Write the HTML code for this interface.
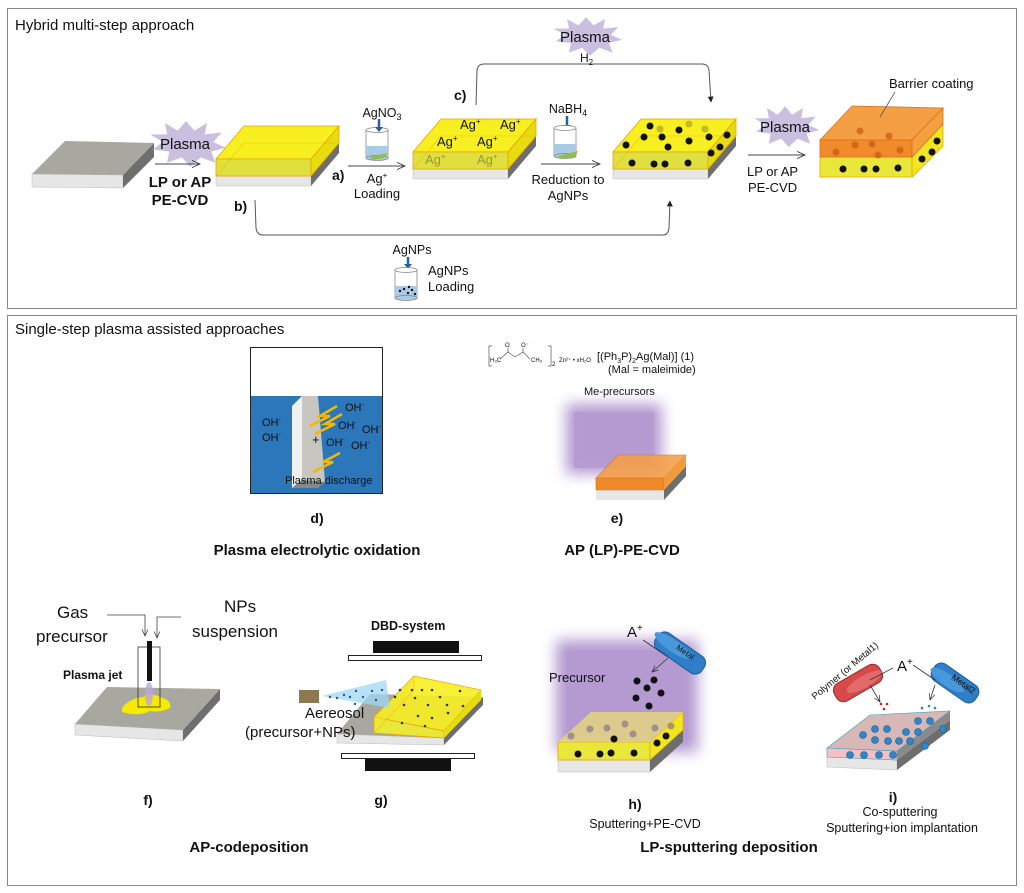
<!DOCTYPE html>
<html><head><meta charset="utf-8"><style>
body{margin:0;background:#fff}
svg{display:block}
text{font-family:"Liberation Sans",Arial,sans-serif;fill:#111}
</style></head><body>
<svg width="1024" height="893" viewBox="0 0 1024 893" xmlns="http://www.w3.org/2000/svg">
<defs>
<marker id="ar" viewBox="0 0 10 10" refX="9" refY="5" markerWidth="9" markerHeight="9" orient="auto"><path d="M0,1 L9,5 L0,9" fill="none" stroke="#333" stroke-width="1"/></marker>
<marker id="af" viewBox="0 0 10 10" refX="9" refY="5" markerWidth="6" markerHeight="6" orient="auto"><path d="M0,0 L10,5 L0,10z" fill="#222"/></marker>
<filter id="blur" x="-30%" y="-30%" width="160%" height="160%"><feGaussianBlur stdDeviation="7"/></filter>
<g id="slab">
 <polygon points="0,17 95,17 95,27 0,27" fill="#e6e6e6" stroke="#bbb" stroke-width="0.5"/>
 <polygon points="95,17 123,-16 123,-6 95,27" fill="#6e6e6e"/>
 <polygon points="0,0 95,0 123,-33 28,-33" fill="#f7ef20" stroke="#e8a400" stroke-width="0.8"/>
 <polygon points="0,0 95,0 95,17 0,17" fill="#dfe040" stroke="#e8a400" stroke-width="0.8"/>
 <polygon points="95,0 123,-33 123,-16 95,17" fill="#e6dc10" stroke="#e8a400" stroke-width="0.8"/>
 <polyline points="0,17 28,-16 123,-16" fill="none" stroke="#e8a400" stroke-width="0.6" opacity="0.6"/>
</g>
<g id="beaker">
 <rect x="0" y="0" width="22" height="28" fill="#fff" stroke="#888" stroke-width="0.8"/>
 <rect x="0" y="16" width="22" height="12" fill="#a9cbe6"/>
 <ellipse cx="11" cy="0" rx="11" ry="2.5" fill="#fff" stroke="#888" stroke-width="0.8"/>
 <ellipse cx="11" cy="28" rx="11" ry="2.5" fill="#a9cbe6" stroke="#888" stroke-width="0.8"/>
</g>
<polygon id="star" points="0,-22 8,-12 20,-20 18,-8 34,-10 26,0 38,6 24,10 28,22 14,16 4,26 -4,16 -18,22 -16,10 -32,8 -22,0 -34,-8 -18,-8 -20,-20 -8,-12" fill="#cbbfe0"/>
</defs>

<rect x="7.5" y="8.5" width="1009" height="300" fill="none" stroke="#888" stroke-width="1"/>
<text x="15" y="30" font-size="15">Hybrid multi-step approach</text>

<polygon points="32,174 123,175 123,188 32,187" fill="#e6e6e6" stroke="#bbb" stroke-width="0.5"/>
<polygon points="123,175 154,143 154,157 123,188" fill="#6e6e6e"/>
<polygon points="32,174 65,141 154,143 123,175" fill="#a8a8a0"/>

<use href="#star" transform="translate(186,142) scale(1.05,0.95)"/>
<text x="160" y="149" font-size="15" fill="#222">Plasma</text>
<line x1="155" y1="164" x2="200" y2="164" stroke="#444" stroke-width="1" marker-end="url(#ar)"/>
<text x="180" y="187" font-size="15" font-weight="bold" text-anchor="middle">LP or AP</text>
<text x="180" y="205" font-size="15" font-weight="bold" text-anchor="middle">PE-CVD</text>

<use href="#slab" transform="translate(216,159)"/>
<text x="332" y="180" font-size="14" font-weight="bold">a)</text>
<text x="234" y="211" font-size="14" font-weight="bold">b)</text>

<text x="382" y="117" font-size="12.5" text-anchor="middle">AgNO<tspan font-size="9" dy="3">3</tspan></text>
<use href="#beaker" transform="translate(366,130)"/>
<polygon points="370,157 388,153 384,158 372,160" fill="#8fbf4a"/>
<path d="M379,119 v9" stroke="#2a5f9e" stroke-width="2.5"/><path d="M375,127 h8 l-4,5z" fill="#2a5f9e"/>
<line x1="348" y1="166" x2="405" y2="166" stroke="#444" stroke-width="1" marker-end="url(#ar)"/>
<text x="377" y="183" font-size="13" text-anchor="middle">Ag<tspan font-size="8" dy="-5">+</tspan></text>
<text x="377" y="198" font-size="13" text-anchor="middle">Loading</text>

<use href="#slab" transform="translate(413,152)"/>
<g font-size="13"><text x="460" y="129">Ag<tspan font-size="8" dy="-5">+</tspan></text><text x="500" y="129">Ag<tspan font-size="8" dy="-5">+</tspan></text>
<text x="437" y="146">Ag<tspan font-size="8" dy="-5">+</tspan></text><text x="477" y="146">Ag<tspan font-size="8" dy="-5">+</tspan></text></g>
<g font-size="13" opacity="0.35"><text x="425" y="164">Ag<tspan font-size="8" dy="-5">+</tspan></text><text x="477" y="164">Ag<tspan font-size="8" dy="-5">+</tspan></text></g>
<text x="454" y="100" font-size="14" font-weight="bold">c)</text>

<path d="M476,105 L477,70 Q478,64 484,64 L702,64 Q708,64 709,70 L711,102" fill="none" stroke="#555" stroke-width="1" marker-end="url(#af)"/>
<use href="#star" transform="translate(586,35) scale(0.95,0.8)"/>
<text x="560" y="42" font-size="15">Plasma</text>
<text x="580" y="62" font-size="12">H<tspan font-size="8" dy="3">2</tspan></text>

<path d="M255,200 L256,228 Q257,235 263,235 L663,235 Q668,235 669,228 L670,201" fill="none" stroke="#555" stroke-width="1" marker-end="url(#af)"/>
<text x="412" y="254" font-size="12.5" text-anchor="middle">AgNPs</text>
<path d="M408,257 v8" stroke="#2a5f9e" stroke-width="2.5"/><path d="M404,264 h8 l-4,5z" fill="#2a5f9e"/>
<use href="#beaker" transform="translate(395,270)"/>
<g fill="#111"><circle cx="400" cy="291" r="1.2"/><circle cx="404" cy="289" r="1.2"/><circle cx="408" cy="293" r="1.2"/><circle cx="412" cy="290" r="1.2"/><circle cx="415" cy="294" r="1.2"/><circle cx="409" cy="287" r="1.2"/></g>
<text x="428" y="275" font-size="13">AgNPs</text>
<text x="428" y="291" font-size="13">Loading</text>

<text x="568" y="113" font-size="12.5" text-anchor="middle">NaBH<tspan font-size="9" dy="3">4</tspan></text>
<path d="M567,116 v10" stroke="#2a5f9e" stroke-width="2.5"/><path d="M563,125 h8 l-4,5z" fill="#2a5f9e"/>
<use href="#beaker" transform="translate(554,128)"/>
<polygon points="558,156 578,151 575,157 560,159" fill="#8fbf4a"/>
<line x1="541" y1="164" x2="600" y2="164" stroke="#444" stroke-width="1" marker-end="url(#ar)"/>
<text x="568" y="184" font-size="13" text-anchor="middle">Reduction to</text>
<text x="568" y="200" font-size="13" text-anchor="middle">AgNPs</text>

<use href="#slab" transform="translate(613,152)"/>
<g fill="#111"><circle cx="650" cy="126" r="3.5"/><circle cx="679" cy="130" r="3.5"/><circle cx="644" cy="137" r="3.5"/><circle cx="662" cy="137" r="3.5"/><circle cx="626" cy="145" r="3.5"/><circle cx="668" cy="147" r="3.5"/><circle cx="689" cy="141" r="3.5"/><circle cx="709" cy="137" r="3.5"/><circle cx="727" cy="135" r="3.5"/><circle cx="720" cy="147" r="3.5"/><circle cx="711" cy="153" r="3.5"/>
<circle cx="632" cy="163" r="3.5"/><circle cx="654" cy="164" r="3.5"/><circle cx="665" cy="164" r="3.5"/><circle cx="688" cy="163" r="3.5"/></g>
<g fill="#9a9a20" opacity="0.6"><circle cx="660" cy="129" r="3.5"/><circle cx="689" cy="124" r="3.5"/><circle cx="705" cy="129" r="3.5"/></g>

<use href="#star" transform="translate(785,125) scale(0.9,0.85)"/>
<text x="760" y="132" font-size="15">Plasma</text>
<line x1="748" y1="155" x2="805" y2="155" stroke="#444" stroke-width="1" marker-end="url(#ar)"/>
<text x="747" y="176" font-size="13">LP or AP</text>
<text x="748" y="192" font-size="13">PE-CVD</text>

<polygon points="820,157 912,157 912,177 820,177" fill="#e9e83a" stroke="#e8a400" stroke-width="0.8"/>
<polygon points="912,157 943,124 943,146 912,177" fill="#f2e620" stroke="#e8a400" stroke-width="0.8"/>
<g fill="#111"><circle cx="843" cy="169" r="3.5"/><circle cx="864" cy="169" r="3.5"/><circle cx="876" cy="169" r="3.5"/><circle cx="898" cy="168" r="3.5"/><circle cx="922" cy="159" r="3.5"/><circle cx="932" cy="152" r="3.5"/><circle cx="937" cy="141" r="3.5"/></g>
<polygon points="820,140 912,140 943,108 852,106" fill="#f49a3a" stroke="#d8701a" stroke-width="0.8" opacity="0.95"/>
<polygon points="820,140 912,140 912,157 820,157" fill="#f08a2a" stroke="#d8701a" stroke-width="0.8"/>
<polygon points="912,140 943,108 943,124 912,157" fill="#f5a040" stroke="#d8701a" stroke-width="0.8"/>
<g fill="#c85a10" opacity="0.7"><circle cx="836" cy="152" r="3.5"/><circle cx="855" cy="145" r="3.5"/><circle cx="872" cy="144" r="3.5"/><circle cx="878" cy="155" r="3.5"/><circle cx="900" cy="150" r="3.5"/><circle cx="860" cy="131" r="3.5"/><circle cx="889" cy="136" r="3.5"/></g>
<line x1="895" y1="92" x2="880" y2="117" stroke="#555" stroke-width="0.8"/>
<text x="889" y="88" font-size="13">Barrier coating</text>

<rect x="7.5" y="315.5" width="1009" height="570" fill="none" stroke="#888" stroke-width="1"/>
<text x="15" y="334" font-size="15">Single-step plasma assisted approaches</text>

<rect x="250.5" y="347.5" width="132" height="146" fill="#fff" stroke="#222" stroke-width="1"/>
<rect x="251" y="396" width="131" height="97" fill="#2b77b9"/>
<polygon points="292,406 302,396 302,480 292,488" fill="#f0f0f0"/>
<polygon points="302,396 318,396 325,482 302,480" fill="#c8c6c0"/>
<polygon points="292,488 302,480 325,482 318,488" fill="#888"/>
<g stroke="#f5b800" stroke-width="2.5" fill="none"><path d="M337,406 L320,416 L330,416 L310,426"/><path d="M342,414 L325,424 L335,424 L315,434"/><path d="M340,453 L323,462 L333,462 L313,472"/></g>
<g font-size="11"><text x="345" y="411">OH<tspan font-size="7" dy="-4">-</tspan></text><text x="262" y="426">OH<tspan font-size="7" dy="-4">-</tspan></text><text x="262" y="441">OH<tspan font-size="7" dy="-4">-</tspan></text><text x="338" y="429">OH<tspan font-size="7" dy="-4">-</tspan></text><text x="362" y="433">OH<tspan font-size="7" dy="-4">-</tspan></text><text x="326" y="446">OH<tspan font-size="7" dy="-4">-</tspan></text><text x="351" y="449">OH<tspan font-size="7" dy="-4">-</tspan></text>
<text x="312" y="444" font-size="13">+</text><text x="285" y="484" font-size="11">Plasma discharge</text></g>
<text x="317" y="523" font-size="14" font-weight="bold" text-anchor="middle">d)</text>
<text x="317" y="555" font-size="15" font-weight="bold" text-anchor="middle">Plasma electrolytic oxidation</text>

<g stroke="#555" fill="none" stroke-width="0.7"><path d="M492,346 h-3 v20 h3"/><path d="M548,346 h3 v20 h-3"/><path d="M500,359 L508,352 L515,357 L523,352 L530,359"/><path d="M508,352 v-4 M523,352 v-4"/></g>
<g font-size="6" fill="#444"><text x="490" y="362">H₃C</text><text x="531" y="362">CH₃</text><text x="505" y="347">O</text><text x="521" y="347">O⁻</text><text x="552" y="366">2</text><text x="559" y="362">Zn²⁺  • xH₂O</text></g>
<text x="597" y="360" font-size="11">[(Ph<tspan font-size="7" dy="3">3</tspan><tspan dy="-3">P)</tspan><tspan font-size="7" dy="3">2</tspan><tspan dy="-3">Ag(Mal)] (1)</tspan></text>
<text x="608" y="373" font-size="11">(Mal = maleimide)</text>
<text x="584" y="395" font-size="11">Me-precursors</text>
<rect x="566" y="404" width="96" height="70" fill="#b49ad0" filter="url(#blur)"/>
<rect x="574" y="412" width="80" height="56" fill="#b49ad0" opacity="0.8"/>
<polygon points="596,490 664,490 664,500 596,500" fill="#e6e6e6"/>
<polygon points="664,490 686,466 686,476 664,500" fill="#6e6e6e"/>
<polygon points="596,478 664,478 686,455 618,455" fill="#f4a04a" stroke="#d8701a" stroke-width="0.6" opacity="0.9"/>
<polygon points="596,478 664,478 664,490 596,490" fill="#ee8a2a" stroke="#d8701a" stroke-width="0.6"/>
<polygon points="664,478 686,455 686,466 664,490" fill="#f39a3a"/>
<text x="617" y="523" font-size="14" font-weight="bold" text-anchor="middle">e)</text>
<text x="622" y="555" font-size="15" font-weight="bold" text-anchor="middle">AP (LP)-PE-CVD</text>

<text x="57" y="618" font-size="17" fill="#333">Gas</text>
<text x="36" y="642" font-size="17" fill="#333">precursor</text>
<text x="224" y="612" font-size="17" fill="#333">NPs</text>
<text x="192" y="637" font-size="17" fill="#333">suspension</text>
<path d="M107,615 H145 V636" fill="none" stroke="#444" stroke-width="0.8" marker-end="url(#ar)"/>
<path d="M181,617 H157 V638" fill="none" stroke="#444" stroke-width="0.8" marker-end="url(#ar)"/>
<polygon points="75,724 183,730 183,741 75,735" fill="#e6e6e6" stroke="#bbb" stroke-width="0.5"/>
<polygon points="183,730 220,689 220,700 183,741" fill="#6e6e6e"/>
<polygon points="75,724 107,687 220,689 183,730" fill="#a8a8a0"/>
<path d="M122,708 Q130,698 143,697 Q150,692 160,697 Q172,700 170,708 Q160,713 150,711 Q138,717 122,712z" fill="#f5ea00"/>
<rect x="138" y="647" width="22" height="60" fill="none" stroke="#333" stroke-width="0.8"/>
<rect x="147" y="641" width="5" height="40" fill="#111"/>
<ellipse cx="149" cy="694" rx="4" ry="12" fill="#b9a6d8" opacity="0.8"/>
<text x="63" y="679" font-size="12" font-weight="bold">Plasma jet</text>
<text x="148" y="805" font-size="14" font-weight="bold" text-anchor="middle">f)</text>
<text x="249" y="852" font-size="15" font-weight="bold" text-anchor="middle">AP-codeposition</text>

<text x="371" y="630" font-size="12.5" font-weight="bold">DBD-system</text>
<rect x="373" y="641" width="86" height="12" fill="#111"/>
<rect x="348.5" y="655.5" width="133" height="5" fill="#fff" stroke="#222"/>
<rect x="341.5" y="753.5" width="133" height="5" fill="#fff" stroke="#222"/>
<rect x="365" y="759" width="86" height="12" fill="#111"/>
<polygon points="337,734 444,738 444,745 337,743" fill="#e6e6e6" stroke="#bbb" stroke-width="0.5"/>
<polygon points="444,738 483,697 483,705 444,745" fill="#6e6e6e"/>
<polygon points="337,734 370,694 483,697 444,738" fill="#a8a8a0"/>
<polygon points="374,717 444,731 481,690 414,676" fill="#f7ef20" stroke="#e8a400" stroke-width="0.8" opacity="0.9"/>
<polygon points="374,717 444,731 444,738 374,733" fill="#e9e83a" stroke="#e8a400" stroke-width="0.8"/>
<polygon points="444,731 481,690 481,700 444,738" fill="#e6dc10"/>
<polygon points="374,717 414,676 414,690 374,733" fill="#f2e830" opacity="0.6" stroke="#e8a400" stroke-width="0.6"/>
<g fill="#335"><circle cx="400" cy="690" r="1.3"/><circle cx="412" cy="690" r="1.3"/><circle cx="422" cy="690" r="1.3"/><circle cx="432" cy="690" r="1.3"/><circle cx="395" cy="697" r="1.3"/><circle cx="415" cy="698" r="1.3"/><circle cx="440" cy="697" r="1.3"/><circle cx="460" cy="691" r="1.3"/><circle cx="404" cy="705" r="1.3"/><circle cx="428" cy="705" r="1.3"/><circle cx="447" cy="705" r="1.3"/><circle cx="463" cy="706" r="1.3"/><circle cx="418" cy="716" r="1.3"/><circle cx="432" cy="718" r="1.3"/><circle cx="448" cy="713" r="1.3"/><circle cx="402" cy="723" r="1.3"/><circle cx="425" cy="726" r="1.3"/></g>
<rect x="299" y="690" width="20" height="13" fill="#8c7a4e"/>
<polygon points="322,696 386,680 390,708" fill="#9fd8f2" opacity="0.75"/>
<g fill="#2a5a8a"><circle cx="330" cy="697" r="1.2"/><circle cx="337" cy="698" r="1.2"/><circle cx="344" cy="695" r="1.2"/><circle cx="350" cy="697" r="1.2"/><circle cx="356" cy="691" r="1.2"/><circle cx="363" cy="697" r="1.2"/><circle cx="372" cy="691" r="1.2"/><circle cx="376" cy="700" r="1.2"/><circle cx="355" cy="704" r="1.2"/><circle cx="382" cy="690" r="1.2"/></g>
<text x="305" y="718" font-size="15" fill="#333">Aereosol</text>
<text x="245" y="737" font-size="15" fill="#333">(precursor+NPs)</text>
<text x="381" y="805" font-size="14" font-weight="bold" text-anchor="middle">g)</text>

<rect x="556" y="640" width="142" height="112" fill="#b49ad0" filter="url(#blur)"/>
<rect x="566" y="650" width="122" height="90" fill="#b49ad0" opacity="0.7"/>
<polygon points="558,760 650,760 650,772 558,772" fill="#e6e6e6" stroke="#bbb" stroke-width="0.5"/>
<polygon points="650,760 683,730 683,742 650,772" fill="#6e6e6e"/>
<polygon points="558,742 650,742 650,760 558,760" fill="#e9e83a" stroke="#e8a400" stroke-width="0.8"/>
<polygon points="650,742 683,712 683,730 650,760" fill="#f2e620" stroke="#e8a400" stroke-width="0.6"/>
<polygon points="558,742 650,742 683,712 591,712" fill="#eee070" opacity="0.7"/>
<g fill="#111"><circle cx="578" cy="754" r="3.5"/><circle cx="600" cy="754" r="3.5"/><circle cx="611" cy="753" r="3.5"/><circle cx="634" cy="753" r="3.5"/><circle cx="657" cy="743" r="3.5"/><circle cx="614" cy="739" r="3.5"/><circle cx="666" cy="736" r="3.5"/>
<circle cx="637" cy="681" r="3.5"/><circle cx="654" cy="680" r="3.5"/><circle cx="647" cy="688" r="3.5"/><circle cx="661" cy="693" r="3.5"/><circle cx="636" cy="698" r="3.5"/><circle cx="649" cy="706" r="3.5"/></g>
<g fill="#7a6a8a" opacity="0.6"><circle cx="571" cy="736" r="3.5"/><circle cx="590" cy="729" r="3.5"/><circle cx="607" cy="728" r="3.5"/><circle cx="625" cy="724" r="3.5"/><circle cx="633" cy="734" r="3.5"/><circle cx="655" cy="728" r="3.5"/><circle cx="671" cy="726" r="3.5"/></g>
<text x="549" y="682" font-size="13" fill="#222">Precursor</text>
<text x="627" y="637" font-size="15">A<tspan font-size="10" dy="-6">+</tspan></text>
<g transform="translate(680,653) rotate(35)"><rect x="-28" y="-10" width="56" height="20" rx="8" fill="#2f7fc8" stroke="#1d5a94"/><ellipse cx="-10" cy="-2" rx="22" ry="6" fill="#4a98dc"/><text x="-6" y="-1" font-size="8" fill="#111">Metal</text></g>
<line x1="643" y1="640" x2="668" y2="657" stroke="#333" stroke-width="0.8"/>
<line x1="668" y1="658" x2="652" y2="672" stroke="#333" stroke-width="0.8" marker-end="url(#ar)"/>
<text x="635" y="809" font-size="14" font-weight="bold" text-anchor="middle">h)</text>
<text x="645" y="828" font-size="12.5" text-anchor="middle">Sputtering+PE-CVD</text>
<text x="729" y="852" font-size="15" font-weight="bold" text-anchor="middle">LP-sputtering deposition</text>

<polygon points="827,757 897,760 897,770 827,767" fill="#e6e6e6" stroke="#bbb" stroke-width="0.5"/>
<polygon points="897,760 950,720 950,730 897,770" fill="#6e6e6e"/>
<polygon points="827,748 897,751 897,760 827,757" fill="#f5c0c4" stroke="#3aa0b8" stroke-width="0.6"/>
<polygon points="897,751 950,711 950,720 897,760" fill="#8a8a8a"/>
<polygon points="827,748 897,751 950,711 870,715" fill="#d8b8b6" stroke="#3aa0b8" stroke-width="0.6"/>
<g fill="#2f86c8" stroke="#1d5a94" stroke-width="0.6"><circle cx="863" cy="735" r="3.5"/><circle cx="875" cy="729" r="3.5"/><circle cx="887" cy="729" r="3.5"/><circle cx="875" cy="740" r="3.5"/><circle cx="888" cy="741" r="3.5"/><circle cx="899" cy="741" r="3.5"/><circle cx="906" cy="732" r="3.5"/><circle cx="918" cy="732" r="3.5"/><circle cx="910" cy="741" r="3.5"/><circle cx="918" cy="721" r="3.5"/><circle cx="930" cy="721" r="3.5"/><circle cx="943" cy="729" r="3.5"/><circle cx="925" cy="746" r="3.5"/><circle cx="850" cy="755" r="3.5"/><circle cx="864" cy="755" r="3.5"/><circle cx="879" cy="755" r="3.5"/><circle cx="893" cy="755" r="3.5"/></g>
<g transform="translate(858,683) rotate(-30)"><rect x="-26" y="-10" width="52" height="20" rx="8" fill="#d64a4a" stroke="#9c2a2a"/><ellipse cx="6" cy="2" rx="20" ry="6" fill="#e36a6a"/></g>
<text transform="translate(815,700) rotate(-40)" font-size="9.5">Polymer (or Metal1)</text>
<g transform="translate(955,683) rotate(35)"><rect x="-26" y="-10" width="52" height="20" rx="8" fill="#2f7fc8" stroke="#1d5a94"/><ellipse cx="-8" cy="2" rx="20" ry="6" fill="#4a98dc"/><text x="-6" y="-1" font-size="9" fill="#111">Metal2</text></g>
<text x="897" y="671" font-size="15">A<tspan font-size="10" dy="-6">+</tspan></text>
<line x1="893" y1="668" x2="870" y2="680" stroke="#333" stroke-width="0.8"/>
<line x1="913" y1="665" x2="935" y2="680" stroke="#333" stroke-width="0.8"/>
<line x1="870" y1="685" x2="880" y2="702" stroke="#333" stroke-width="0.8" marker-end="url(#ar)"/>
<line x1="935" y1="685" x2="930" y2="700" stroke="#333" stroke-width="0.8" marker-end="url(#ar)"/>
<g fill="#c02020"><circle cx="881" cy="704" r="1.3"/><circle cx="887" cy="704" r="1.3"/><circle cx="884" cy="709" r="1.3"/></g>
<g fill="#2f7fc8"><circle cx="922" cy="708" r="1.3"/><circle cx="929" cy="706" r="1.3"/><circle cx="935" cy="708" r="1.3"/></g>
<text x="893" y="802" font-size="14" font-weight="bold" text-anchor="middle">i)</text>
<text x="900" y="816" font-size="12.5" text-anchor="middle">Co-sputtering</text>
<text x="902" y="832" font-size="12.5" text-anchor="middle">Sputtering+ion implantation</text>
</svg>
</body></html>
